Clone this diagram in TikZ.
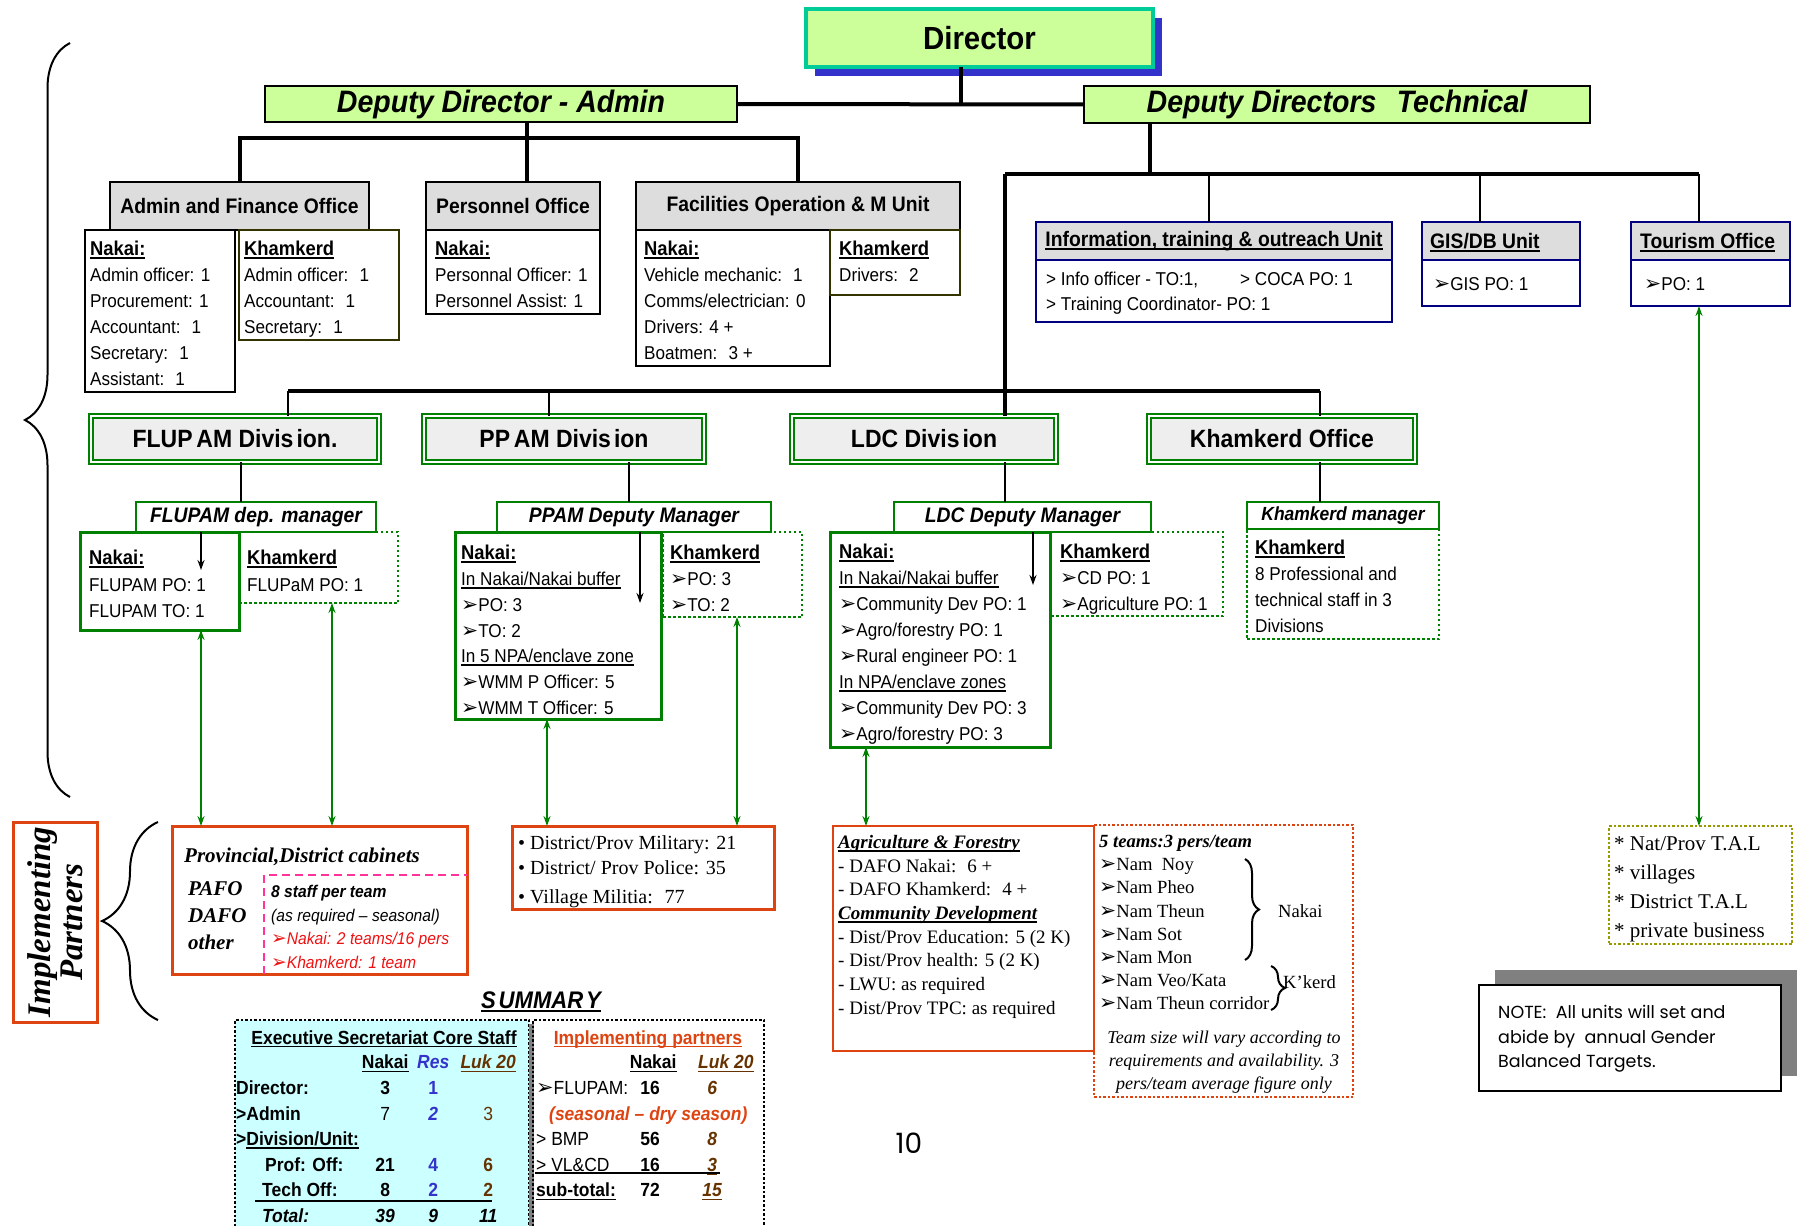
\documentclass[tikz,border=0pt]{standalone}
\usepackage{fontspec}
\setmainfont{Liberation Sans}[FakeStretch=0.92]
\newfontfamily\serf{Liberation Serif}
\newfontfamily\djv{DejaVu Sans}[Scale=1.1]
\newfontfamily\goth{Poppins}
\usetikzlibrary{arrows.meta,decorations.pathreplacing}

\definecolor{lgreen}{HTML}{CCFF99}
\definecolor{teal2}{HTML}{00CC99}
\definecolor{shadblue}{HTML}{3333CC}
\definecolor{hdrgray}{HTML}{DDDDDD}
\definecolor{divgray}{HTML}{EEEEEE}
\definecolor{grn}{HTML}{008000}
\definecolor{navy2}{HTML}{000080}
\definecolor{olivedk}{HTML}{333300}
\definecolor{rust}{HTML}{DD4411}
\definecolor{pink2}{HTML}{FF3399}
\definecolor{red2}{HTML}{EE1111}
\definecolor{resblue}{HTML}{3333CC}
\definecolor{brown2}{HTML}{663300}
\definecolor{cyanbg}{HTML}{CCFFFF}
\definecolor{olive2}{HTML}{999900}
\definecolor{shgray}{HTML}{808080}

\newsavebox\ulbox
\newcommand\uln[1]{\sbox\ulbox{#1}\rlap{\rule[-0.17em]{\wd\ulbox}{0.09em}}\usebox\ulbox}
\newcommand\fsz[2]{\fontsize{#1}{#2}\selectfont}
\newcommand\hd[1]{{\bfseries\fsz{20}{26}\uln{#1}}}
\newcommand\arrhd{{\djv ➢}}
\newcommand\srow[4]{\makebox[125pt][l]{#1}\makebox[48pt]{#2}\makebox[48pt]{#3}\makebox[62pt]{#4}}
\newcommand\rrow[3]{\makebox[94pt][l]{#1}\makebox[40pt]{#2}\makebox[84pt]{#3}}

\begin{document}
\begin{tikzpicture}[x=1pt,y=-1pt,
  >={Stealth[length=10pt,width=7pt]},
  box/.style={anchor=north west,inner sep=0pt,outer sep=0pt,line width=2.5pt},
  hdr/.style={box,draw,fill=hdrgray,font=\bfseries\fsz{21}{24}},
  unit/.style={box,draw=navy2},
  divn/.style={box,draw=grn,line width=2pt,double=white,double distance=2pt,
    fill=divgray,font=\bfseries\fsz{25}{28}},
  mgr/.style={box,draw=grn,fill=white,font=\bfseries\itshape\fsz{21}{24}},
  gsolid/.style={box,draw=grn,line width=3pt},
  gdot/.style={box,draw=grn,dash pattern=on 2.5pt off 2.5pt},
  partner/.style={box,draw=rust,line width=3pt},
  txt/.style={anchor=north west,inner sep=0pt,align=left,font=\fsz{18.6}{26}},
  lbl/.style={anchor=base west,inner sep=0pt},
  bus/.style={line width=4pt},
  link/.style={line width=2.5pt},
  garrow/.style={grn,line width=2pt,<->},
  brc/.style={line width=2pt,decorate,decoration={brace,amplitude=#1}},
]
\useasboundingbox (0,0) rectangle (1805,1226);

%--- Director and deputies ---
\fill[shadblue] (815,18) rectangle (1162,76);
\node[box,draw=teal2,line width=4pt,fill=lgreen,minimum width=347pt,minimum height=58pt,
  font=\bfseries\fsz{32}{36}] (dir) at (806,9) {Director};
\node[box,draw,fill=lgreen,minimum width=472pt,minimum height=36pt,
  font=\bfseries\itshape\fsz{31}{34}] (dda) at (265,86) {\raisebox{-3pt}{Deputy Director - Admin}};
\node[box,draw,fill=lgreen,minimum width=506pt,minimum height=37pt,
  font=\bfseries\itshape\fsz{31}{34}] (ddt) at (1084,86) {\raisebox{-3pt}{Deputy Directors\hspace{0.4em} Technical}};

%--- Admin side offices ---
\node[hdr,minimum width=259pt,minimum height=48pt] (afo) at (110,182) {Admin and Finance Office};
\node[box,draw,minimum width=150pt,minimum height=162pt] (afn) at (85,230) {};
\node[box,draw=olivedk,minimum width=160pt,minimum height=110pt] (afk) at (239,230) {};
\node[txt] (afnt) at (90,241) {\hd{Nakai:}\\Admin officer: 1\\Procurement: 1\\Accountant:~ 1\\Secretary:~ 1\\Assistant:~ 1};
\node[txt] (afkt) at (244,241) {\hd{Khamkerd}\\Admin officer:~ 1\\Accountant:~ 1\\Secretary:~ 1};

\node[hdr,minimum width=174pt,minimum height=48pt] (per) at (426,182) {Personnel Office};
\node[box,draw,minimum width=174pt,minimum height=84pt] (pern) at (426,230) {};
\node[txt] (pernt) at (435,241) {\hd{Nakai:}\\Personnal Officer: 1\\Personnel Assist: 1};

\node[hdr,minimum width=324pt,minimum height=48pt] (fac) at (636,182) {Facilities Operation \& M Unit};
\node[box,draw,minimum width=194pt,minimum height=136pt] (facn) at (636,230) {};
\node[box,draw=olivedk,minimum width=130pt,minimum height=65pt] (fack) at (830,230) {};
\node[txt] (facnt) at (644,241) {\hd{Nakai:}\\Vehicle mechanic:~ 1\\Comms/electrician: 0\\Drivers: 4 +\\Boatmen:~ 3 +};
\node[txt] (fackt) at (839,241) {\hd{Khamkerd}\\Drivers:~ 2};

%--- Technical side units ---
\node[unit,fill=hdrgray,minimum width=356pt,minimum height=38pt,font=\bfseries\fsz{21}{24}] (inf) at (1036,222)
  {\uln{Information, training \& outreach Unit}};
\node[unit,minimum width=356pt,minimum height=62pt] (infb) at (1036,260) {};
\node[txt,font=\fsz{18.6}{25}] (infbt) at (1046,272)
  {\makebox[194pt][l]{> Info officer - TO:1,}> COCA PO: 1\\> Training Coordinator- PO: 1};

\node[unit,fill=hdrgray,minimum width=158pt,minimum height=38pt] (gis) at (1422,222) {};
\node[lbl,font=\bfseries\fsz{21}{24}] (gist) at (1430,248.5) {\uln{GIS/DB Unit}};
\node[unit,minimum width=158pt,minimum height=46pt] (gisb) at (1422,260) {};
\node[lbl,font=\fsz{18.6}{24}] (gisbt) at (1433,290) {\arrhd GIS PO: 1};

\node[unit,fill=hdrgray,minimum width=159pt,minimum height=38pt] (tou) at (1631,222) {};
\node[lbl,font=\bfseries\fsz{21}{24}] (tout) at (1640,248.5) {\uln{Tourism Office}};
\node[unit,minimum width=159pt,minimum height=46pt] (toub) at (1631,260) {};
\node[lbl,font=\fsz{18.6}{24}] (toubt) at (1644,290) {\arrhd PO: 1};

%--- Divisions ---
\node[divn,minimum width=288pt,minimum height=46pt] (fdv) at (91,416) {FLUP\hspace{0.15em}AM Divis\hspace{0.12em}ion.};
\node[divn,minimum width=280pt,minimum height=46pt] (pdv) at (424,416) {PP\hspace{0.15em}AM Divis\hspace{0.12em}ion};
\node[divn,minimum width=264pt,minimum height=46pt] (ldc) at (792,416) {LDC Divis\hspace{0.12em}ion};
\node[divn,minimum width=266pt,minimum height=46pt] (kdv) at (1149,416) {Khamkerd Office};

%--- Deputy managers ---
\node[mgr,minimum width=240pt,minimum height=30pt] (fmg) at (136,502) {FLUPAM dep. manager};
\node[mgr,minimum width=274pt,minimum height=30pt] (pmg) at (497,502) {PPAM Deputy Manager};
\node[mgr,minimum width=257pt,minimum height=30pt] (lmg) at (894,502) {LDC Deputy Manager};
\node[mgr,minimum width=192pt,minimum height=27pt,font=\bfseries\itshape\fsz{19}{22}] (kmg) at (1247,502) {Khamkerd manager};

%--- Division staff ---
\node[gsolid,minimum width=159pt,minimum height=98pt] (fnk) at (80,532) {};
\node[gdot,minimum width=159pt,minimum height=71pt] (fkh) at (239,532) {};
\node[txt,font=\fsz{18.6}{26.5}] (fnkt) at (89,550) {\hd{Nakai:}\\FLUPAM PO: 1\\FLUPAM TO: 1};
\node[txt,font=\fsz{18.6}{26.5}] (fkht) at (247,550) {\hd{Khamkerd}\\FLUPaM PO: 1};

\node[gsolid,minimum width=206pt,minimum height=187pt] (pnk) at (455,532) {};
\node[gdot,minimum width=139pt,minimum height=85pt] (pkh) at (663,532) {};
\node[txt,font=\fsz{18.6}{25.8}] (pnkt) at (461,545) {\hd{Nakai:}\\\uln{In Nakai/Nakai buffer}\\\arrhd PO: 3\\\arrhd TO: 2\\
  \uln{In 5 NPA/enclave zone}\\\arrhd WMM P Officer: 5\\\arrhd WMM T Officer: 5};
\node[txt,font=\fsz{18.6}{25.8}] (pkht) at (670,545) {\hd{Khamkerd}\\\arrhd PO: 3\\\arrhd TO: 2};

\node[gsolid,minimum width=220pt,minimum height=215pt] (lnk) at (830,532) {};
\node[gdot,minimum width=172pt,minimum height=84pt] (lkh) at (1051,532) {};
\node[txt] (lnkt) at (839,544) {\hd{Nakai:}\\\uln{In Nakai/Nakai buffer}\\\arrhd Community Dev PO: 1\\\arrhd Agro/forestry PO: 1\\
  \arrhd Rural engineer PO: 1\\\uln{In NPA/enclave zones}\\\arrhd Community Dev PO: 3\\\arrhd Agro/forestry PO: 3};
\node[txt] (lkht) at (1060,544) {\hd{Khamkerd}\\\arrhd CD PO: 1\\\arrhd Agriculture PO: 1};

\node[gdot,minimum width=192pt,minimum height=110pt] (kbd) at (1247,529) {};
\node[txt] (kbdt) at (1255,540) {\hd{Khamkerd}\\8 Professional and\\technical staff in 3\\Divisions};

%--- Org lines ---
\coordinate (dj) at (961,104);
\draw[bus] (dir.south -| dj) -- (dj);
\draw[bus] (dda.east) -- (ddt.west);
\coordinate (ab) at (527,138);
\draw[bus] (dda.south -| ab) -- (ab);
\draw[bus] (afo.north) |- (ab) -| (fac.north);
\draw[bus] (ab) -- (ab |- per.north);

\coordinate (tb) at (1150,174);
\coordinate (tl) at (1005,174);
\coordinate (t1) at (1209,174);
\coordinate (t2) at (1480,174);
\coordinate (tr) at (1699,174);
\draw[bus] (ddt.south -| tb) -- (tb);
\draw[bus] (tl) -- (tr);
\draw[link] (t1) -- (t1 |- inf.north);
\draw[link] (t2) -- (t2 |- gis.north);
\draw[link] (tr) -- (tr |- tou.north);
\draw[bus] (tl) -- (tl |- ldc.north);

\coordinate (m1) at (288,391);
\coordinate (m2) at (549,391);
\coordinate (m3) at (1320,391);
\draw[bus] (m1) -- (m3);
\draw[link] (m1) -- (m1 |- fdv.north);
\draw[link] (m2) -- (m2 |- pdv.north);
\draw[link] (m3) -- (m3 |- kdv.north);

\coordinate (d1) at (241,480);
\coordinate (d2) at (629,480);
\coordinate (d3) at (1005,480);
\coordinate (d4) at (1320,480);
\draw[link] (fdv.south -| d1) -- (fmg.north -| d1);
\draw[link] (pdv.south -| d2) -- (pmg.north -| d2);
\draw[link] (ldc.south -| d3) -- (lmg.north -| d3);
\draw[link] (kdv.south -| d4) -- (kmg.north -| d4);

%--- arrows inside Nakai boxes ---
\coordinate (a1) at (201,570);
\coordinate (a2) at (640,603);
\coordinate (a3) at (1033,585);
\draw[line width=2pt,->] (fmg.south -| a1) -- (a1);
\draw[line width=2pt,->] (pmg.south -| a2) -- (a2);
\draw[line width=2pt,->] (lmg.south -| a3) -- (a3);

%--- Braces ---
\draw[brc=45pt] (70,797) -- (70,43);
\draw[brc=56pt] (158,1020) -- (158,822);

%--- Implementing partners ---
\node[box,anchor=center,draw=rust,line width=3pt,rotate=90,minimum width=200pt,minimum height=84pt,
  align=center,font=\serf\bfseries\itshape\fsz{33}{32}] (imp) at (55,922) {Implementing\\Partners};

\node[partner,minimum width=295pt,minimum height=148pt] (prv) at (172,826) {};
\node[lbl,font=\serf\bfseries\itshape\fsz{21}{24}] (prvt) at (184,862) {Provincial,District cabinets};
\node[txt,font=\serf\bfseries\itshape\fsz{21}{27}] (pafo) at (188,881) {PAFO\\DAFO\\other};
\draw[pink2,line width=2.5pt,dash pattern=on 8pt off 5pt] (264,974) -- (264,875) -- (467,875);
\node[txt,font=\fsz{17}{23.5}] (teamt) at (271,885) {{\bfseries\itshape 8 staff per team}\\{\itshape (as required – seasonal)}\\
  {\color{red2}\itshape\arrhd Nakai: 2 teams/16 pers}\\{\color{red2}\itshape\arrhd Khamkerd: 1 team}};

\node[partner,minimum width=262pt,minimum height=83pt] (mil) at (512,826) {};
\node[txt,font=\serf\fsz{20}{25}] (milt) at (518,835) {• District/Prov Military: 21\\• District/ Prov Police: 35\\[4pt]• Village Militia:~ 77};

\node[partner,line width=2.5pt,minimum width=261pt,minimum height=225pt] (agr) at (833,826) {};
\node[txt,font=\serf\fsz{19}{23.7}] (agrt) at (838,835) {{\bfseries\itshape\uln{Agriculture \& Forestry}}\\- DAFO Nakai:~ 6 +\\- DAFO Khamkerd:~ 4 +\\
  {\bfseries\itshape\uln{Community Development}}\\- Dist/Prov Education: 5 (2 K)\\- Dist/Prov health: 5 (2 K)\\- LWU: as required\\- Dist/Prov TPC: as required};

\node[box,draw=rust,dash pattern=on 2.5pt off 2pt,minimum width=259pt,minimum height=272pt] (tms) at (1094,825) {};
\node[txt,font=\serf\fsz{18.6}{23.2}] (tmst) at (1099,835) {{\bfseries\itshape 5 teams:3 pers/team}\\\arrhd Nam~ Noy\\\arrhd Nam Pheo\\\arrhd Nam Theun\\
  \arrhd Nam Sot\\\arrhd Nam Mon\\\arrhd Nam Veo/Kata\\\arrhd Nam Theun corridor};
\draw[brc=14pt] (1245,859) -- (1245,960);
\node[lbl,font=\serf\fsz{18.6}{22}] (tnak) at (1278,917) {Nakai};
\draw[brc=14pt] (1271,966) -- (1271,1010);
\node[lbl,font=\serf\fsz{18.6}{22}] (tkk) at (1283,988) {K’kerd};
\node[anchor=north,inner sep=0pt,align=center,font=\serf\itshape\fsz{18}{23}] (tnote) at (1224,1031)
  {Team size will vary according to\\requirements and availability. 3\\pers/team average figure only};

\node[box,draw=olive2,dash pattern=on 2.5pt off 2pt,minimum width=183pt,minimum height=118pt] (nat) at (1609,826) {};
\node[txt,font=\serf\fsz{21}{29}] (natt) at (1614,836) {* Nat/Prov T.A.L\\* villages\\* District T.A.L\\* private business};

%--- green links to partners ---
\coordinate (g1) at (201,700);
\coordinate (g2) at (332,700);
\coordinate (g3) at (547,700);
\coordinate (g4) at (737,700);
\coordinate (g5) at (866,700);
\coordinate (g6) at (1699,700);
\draw[garrow] (fnk.south -| g1) -- (prv.north -| g1);
\draw[garrow] (fkh.south -| g2) -- (prv.north -| g2);
\draw[garrow] (pnk.south -| g3) -- (mil.north -| g3);
\draw[garrow] (pkh.south -| g4) -- (mil.north -| g4);
\draw[garrow] (lnk.south -| g5) -- (agr.north -| g5);
\draw[garrow] (toub.south -| g6) -- (nat.north -| g6);

%--- Summary ---
\node[anchor=center,inner sep=0pt,font=\bfseries\itshape\fsz{24}{26}] (sum) at (541,1002) {\uln{S\hspace{0.12em}UMMAR\hspace{0.12em}Y}};
\node[box,fill=cyanbg,draw,dash pattern=on 2.5pt off 2pt,minimum width=294pt,minimum height=230pt] (sl) at (235,1020) {};
\fill[shgray] (529,1024) rectangle (534,1240);
\node[box,draw,dash pattern=on 2.5pt off 2pt,minimum width=231pt,minimum height=230pt] (sr) at (533,1020) {};

\node[anchor=base,inner sep=0pt,font=\bfseries\fsz{19}{24}] (est) at (384,1044) {\uln{Executive Secretariat Core Staff}};
\node[txt,font=\bfseries\fsz{19}{25.6}] (stab) at (236,1055) {%
  \srow{}{\uln{Nakai}}{\color{resblue}\itshape Res}{\color{brown2}\itshape\uln{Luk 20}}\\
  \srow{Director:}{3}{\color{resblue}1}{}\\
  \srow{>Admin}{\mdseries 7}{\color{resblue}\itshape 2}{\color{brown2}\mdseries 3}\\
  \srow{>\uln{Division/Unit:}}{}{}{}\\
  \srow{\hspace{29pt}Prof: Off:}{21}{\color{resblue}4}{\color{brown2}6}\\
  \srow{\hspace{26pt}Tech Off:}{8}{\color{resblue}2}{\color{brown2}2}\\
  \srow{\hspace{26pt}\itshape Total:}{\itshape 39}{\itshape 9}{\itshape 11}};
\draw[line width=1.5pt] (255,1201) -- (492,1201);

\node[anchor=base,inner sep=0pt,font=\bfseries\fsz{19}{24}] (ipt) at (648,1044) {\color{rust}\uln{Implementing partners}};
\node[txt,font=\bfseries\fsz{19}{25.6}] (rtab) at (536,1055) {%
  \hspace{94pt}\makebox[46pt]{\uln{Nakai}}\hspace{22pt}{\color{brown2}\itshape\uln{Luk 20}}\\
  \rrow{\mdseries\arrhd FLUPAM:}{16}{\color{brown2}\itshape 6}\\
  \hspace{13pt}{\color{rust}\itshape (seasonal – dry season)}\\
  \rrow{\mdseries > BMP}{56}{\color{brown2}\itshape 8}\\
  \rrow{\mdseries > VL\&CD}{16}{\color{brown2}\itshape\uln{3}}\\
  \rrow{\uln{sub-total:}}{72}{\color{brown2}\itshape\uln{15}}};
\draw[line width=1.5pt] (535,1173) -- (720,1173);

%--- Note ---
\fill[shgray] (1495,970) rectangle (1797,1076);
\node[box,draw,fill=white,minimum width=302pt,minimum height=106pt] (note) at (1479,985) {};
\node[txt,font=\goth\fsz{17.5}{24.5}] (notet) at (1498,1005) {NOTE:~ All units will set and\\abide by~ annual Gender\\Balanced Targets.};

\node[anchor=center,inner sep=0pt,font=\goth\fsz{28}{30}] (pg) at (909,1143) {10};

\end{tikzpicture}
\end{document}
